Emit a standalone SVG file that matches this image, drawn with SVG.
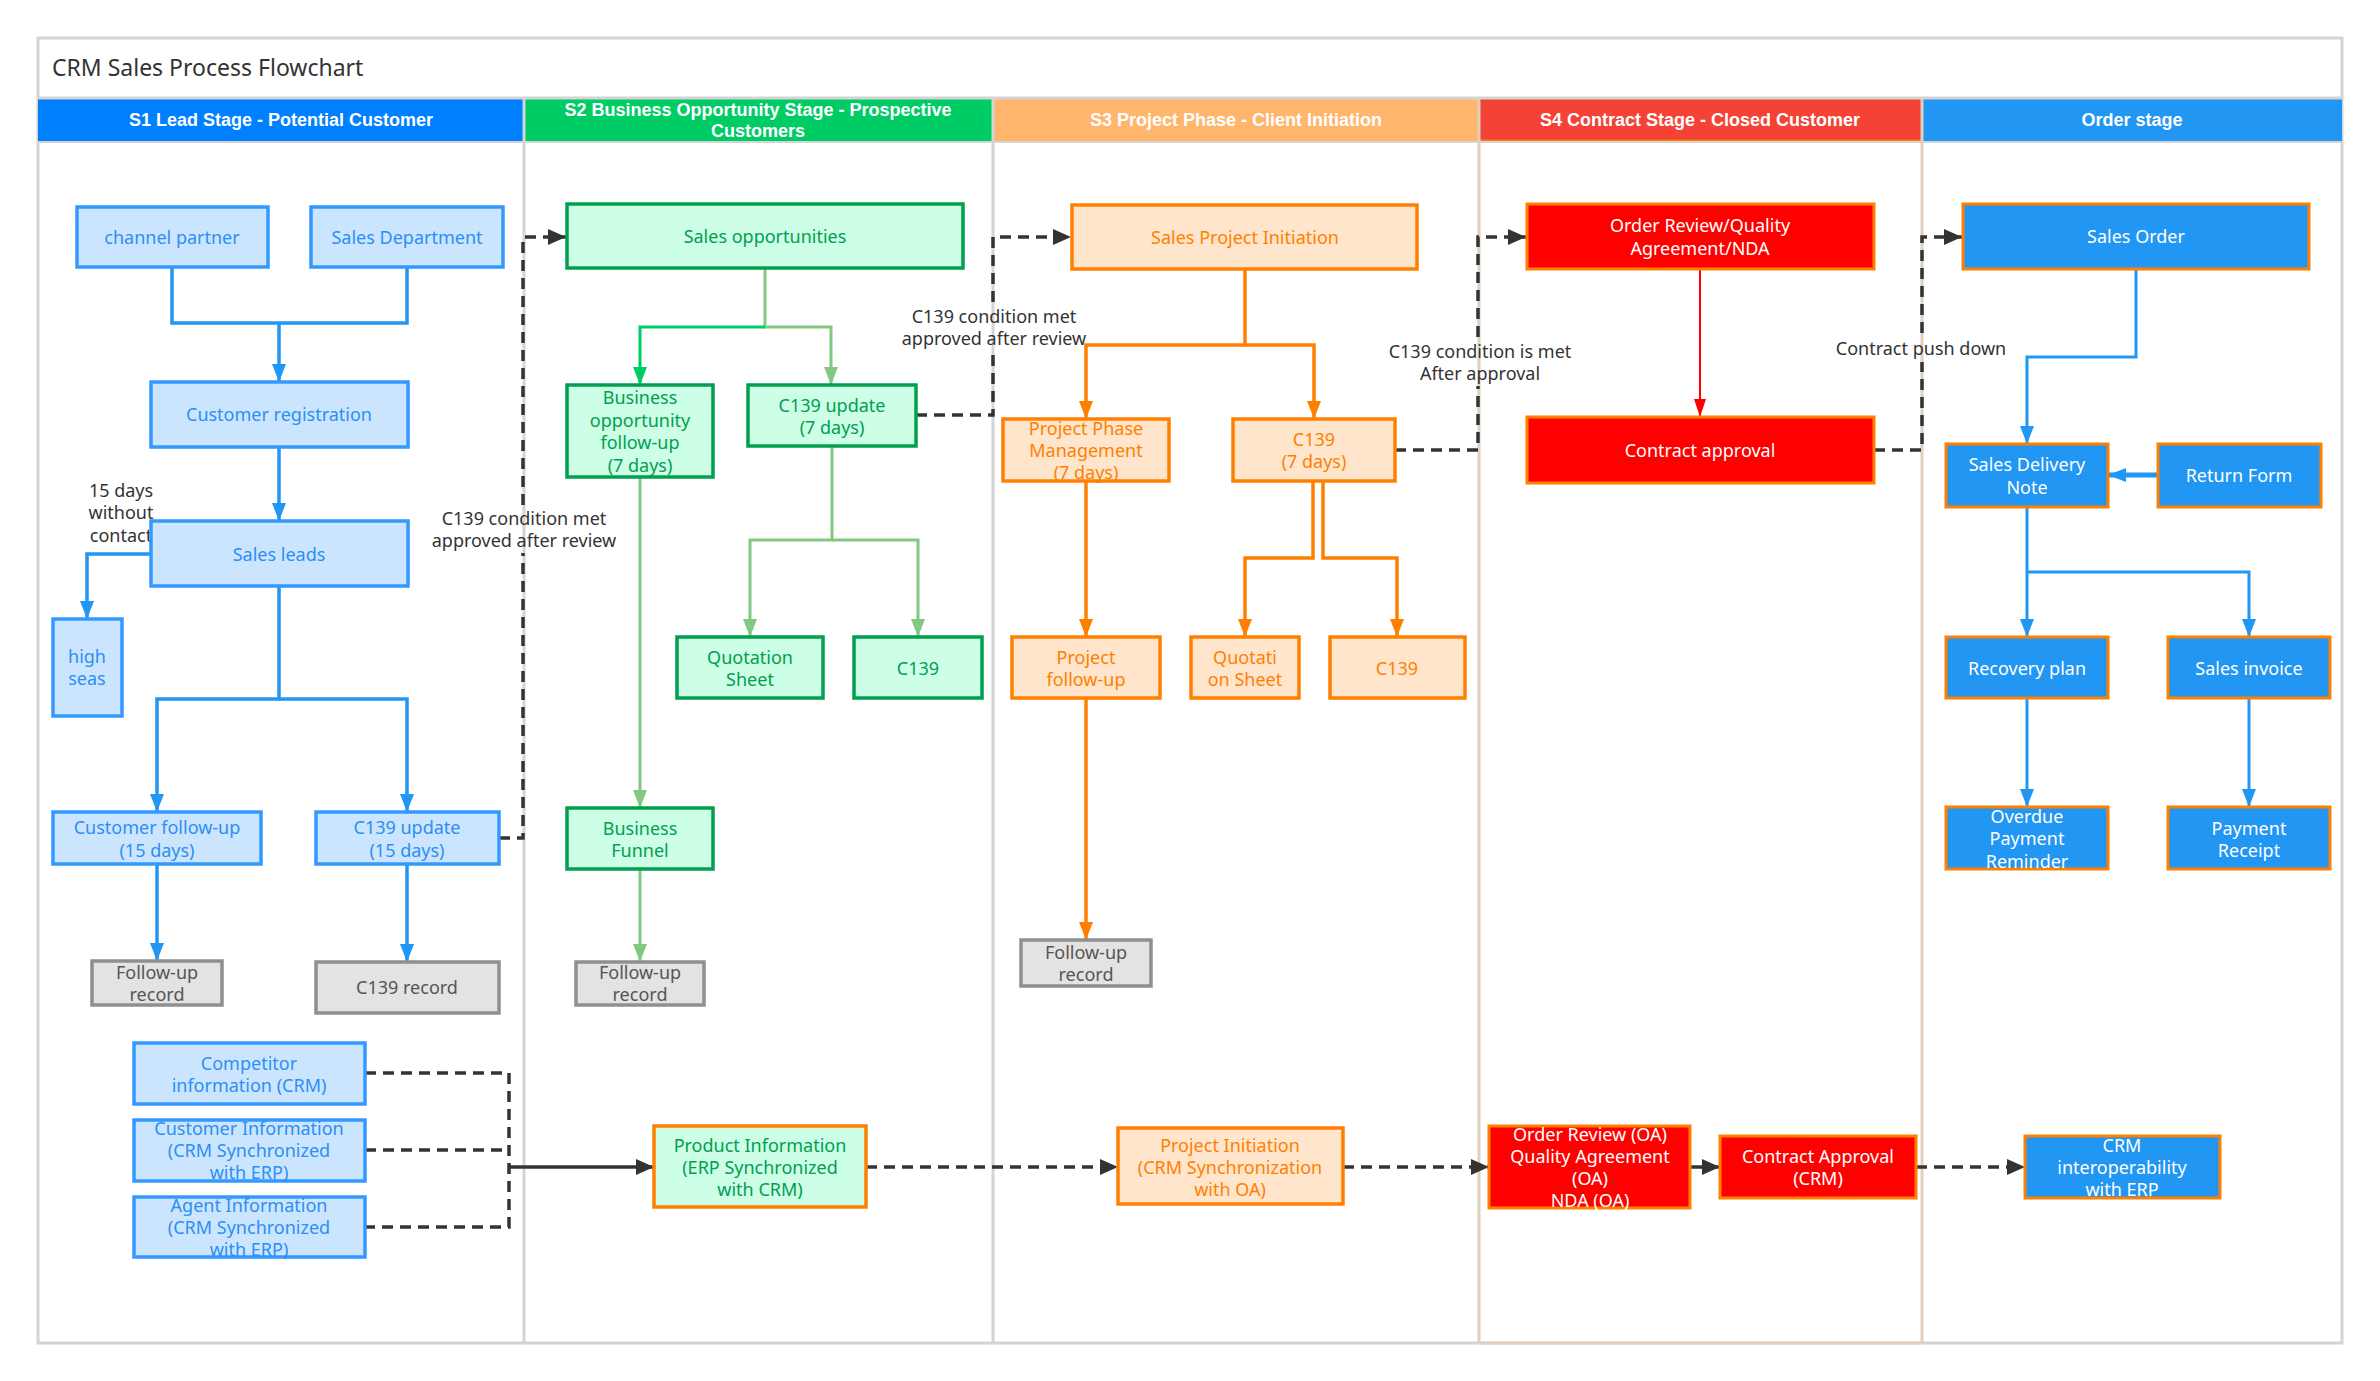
<svg xmlns="http://www.w3.org/2000/svg" width="2380" height="1381" viewBox="0 0 2380 1381">
<style>
text{font-family:"Noto Sans","Open Sans",sans-serif;font-size:18px;text-anchor:middle;dominant-baseline:central}
.hd{font-family:"Liberation Sans",Arial,sans-serif;font-weight:bold;font-size:18px;fill:#fff}
.lane{fill:none;stroke:#d4d4d4;stroke-width:3}
.n1{fill:#cce5ff;stroke:#3399ff;stroke-width:3.5}
.t1{fill:#2b8ff5}
.ng{fill:#e3e3e3;stroke:#8f8f8f;stroke-width:3.5}
.tg{fill:#555}
.n2{fill:#ccffe5;stroke:#00a050;stroke-width:3.5}
.t2{fill:#00a050}
.n3{fill:#ffe5cc;stroke:#ff8000;stroke-width:3.5}
.t3{fill:#ff8000}
.n4{fill:#ff0000;stroke:#ff8000;stroke-width:3}
.n5{fill:#2196f3;stroke:#ff8000;stroke-width:3}
.tw{fill:#fff}
.lb{fill:#333}
.cb{fill:none;stroke:#2196f3;stroke-width:3.5}
.cgb{fill:none;stroke:#00cc66;stroke-width:3}
.cgp{fill:none;stroke:#82c882;stroke-width:3}
.co{fill:none;stroke:#ff8000;stroke-width:3.5}
.cr{fill:none;stroke:#ff0000;stroke-width:2}
.cob{fill:none;stroke:#2196f3;stroke-width:3}
.cd{fill:none;stroke:#333;stroke-width:3.5;stroke-dasharray:11 7}
.cs{fill:none;stroke:#333;stroke-width:3.5}
</style>
<defs>
<marker id="ab" markerUnits="userSpaceOnUse" markerWidth="18" markerHeight="14" refX="18" refY="7" orient="auto"><path d="M0,0 L18,7 L0,14 z" fill="#2196f3"/></marker>
<marker id="agb" markerUnits="userSpaceOnUse" markerWidth="18" markerHeight="14" refX="18" refY="7" orient="auto"><path d="M0,0 L18,7 L0,14 z" fill="#00cc66"/></marker>
<marker id="agp" markerUnits="userSpaceOnUse" markerWidth="18" markerHeight="14" refX="18" refY="7" orient="auto"><path d="M0,0 L18,7 L0,14 z" fill="#82c882"/></marker>
<marker id="ao" markerUnits="userSpaceOnUse" markerWidth="18" markerHeight="14" refX="18" refY="7" orient="auto"><path d="M0,0 L18,7 L0,14 z" fill="#ff8000"/></marker>
<marker id="ar" markerUnits="userSpaceOnUse" markerWidth="18" markerHeight="12" refX="18" refY="6" orient="auto"><path d="M0,0 L18,6 L0,12 z" fill="#ff0000"/></marker>
<marker id="ad" markerUnits="userSpaceOnUse" markerWidth="18" markerHeight="16" refX="18" refY="8" orient="auto"><path d="M0,0 L18,8 L0,16 z" fill="#333"/></marker>
</defs>
<rect x="0" y="0" width="2380" height="1381" fill="#fff"/>
<g id="frame">
<rect x="38" y="38" width="2304" height="1305" fill="#fff" stroke="#d4d4d4" stroke-width="3"/>
<text x="52" y="67" style="text-anchor:start;font-size:23px;fill:#333">CRM Sales Process Flowchart</text>
<rect x="38" y="98" width="486" height="44" fill="#007fff"/>
<rect x="524" y="98" width="469" height="44" fill="#00cc66"/>
<rect x="993" y="98" width="486" height="44" fill="#ffb66c"/>
<rect x="1479" y="98" width="443" height="44" fill="#f44336"/>
<rect x="1922" y="98" width="420" height="44" fill="#2196f3"/>
<line x1="1479" y1="141" x2="1922" y2="141" stroke="#ff8000" stroke-width="3"/>
<line x1="38" y1="98" x2="2342" y2="98" stroke="#d4d4d4" stroke-width="3"/>
<line x1="38" y1="142" x2="2342" y2="142" stroke="#d4d4d4" stroke-width="2"/>
<line class="lane" x1="524" y1="98" x2="524" y2="1343"/>
<line class="lane" x1="993" y1="98" x2="993" y2="1343"/>
<line class="lane" x1="1479" y1="98" x2="1479" y2="1343" style="stroke:#e0d0c0"/>
<line class="lane" x1="1922" y1="98" x2="1922" y2="1343" style="stroke:#e0d0c0"/>
<line x1="1479" y1="1343" x2="1922" y2="1343" stroke="#e0d0c0" stroke-width="3"/>
<text class="hd" x="281" y="120">S1 Lead Stage - Potential Customer</text>
<text class="hd" x="758" y="110">S2 Business Opportunity Stage - Prospective</text>
<text class="hd" x="758" y="131">Customers</text>
<text class="hd" x="1236" y="120">S3 Project Phase - Client Initiation</text>
<text class="hd" x="1700" y="120">S4 Contract Stage - Closed Customer</text>
<text class="hd" x="2132" y="120">Order stage</text>
</g>
<g id="connectors">
<path class="cb" d="M172,267 V323 H407 V267"/>
<path class="cb" d="M279,323 V382" marker-end="url(#ab)"/>
<path class="cb" d="M279,447 V521" marker-end="url(#ab)"/>
<path class="cb" d="M151,554 H87 V619" marker-end="url(#ab)"/>
<path class="cb" d="M279,586 V699 H157 V812" marker-end="url(#ab)"/>
<path class="cb" d="M279,699 H407 V812" marker-end="url(#ab)"/>
<path class="cb" d="M157,864 V961" marker-end="url(#ab)"/>
<path class="cb" d="M407,864 V962" marker-end="url(#ab)"/>
<path class="cgp" d="M765,268 V327 H831 V385" marker-end="url(#agp)"/>
<path class="cgb" d="M765,327 H640 V385" marker-end="url(#agb)"/>
<path class="cgp" d="M832,446 V540 H750 V637" marker-end="url(#agp)"/>
<path class="cgp" d="M832,540 H918 V637" marker-end="url(#agp)"/>
<path class="cgp" d="M640,477 V808" marker-end="url(#agp)"/>
<path class="cgp" d="M640,869 V962" marker-end="url(#agp)"/>
<path class="co" d="M1245,269 V345 H1086 V419" marker-end="url(#ao)"/>
<path class="co" d="M1245,345 H1314 V419" marker-end="url(#ao)"/>
<path class="co" d="M1086,481 V637" marker-end="url(#ao)"/>
<path class="co" d="M1086,698 V940" marker-end="url(#ao)"/>
<path class="co" d="M1313,481 V558 H1245 V637" marker-end="url(#ao)"/>
<path class="co" d="M1323,481 V558 H1397 V637" marker-end="url(#ao)"/>
<path class="cr" d="M1700,269 V417" marker-end="url(#ar)"/>
<path class="cob" d="M2136,269 V357 H2027 V444" marker-end="url(#ab)"/>
<path class="cob" d="M2158,475 H2108" marker-end="url(#ab)" style="stroke-width:5"/>
<path class="cob" d="M2027,507 V637" marker-end="url(#ab)"/>
<path class="cob" d="M2027,572 H2249 V637" marker-end="url(#ab)"/>
<path class="cob" d="M2027,698 V807" marker-end="url(#ab)"/>
<path class="cob" d="M2249,698 V807" marker-end="url(#ab)"/>
<path class="cd" d="M499,838 H523 V553"/>
<path class="cd" d="M523,505 V237 H566" marker-end="url(#ad)"/>
<path class="cd" d="M916,415 H993 V352"/>
<path class="cd" d="M993,302 V237 H1071" marker-end="url(#ad)"/>
<path class="cd" d="M1395,450 H1478 V386"/>
<path class="cd" d="M1478,337 V237 H1526" marker-end="url(#ad)"/>
<path class="cd" d="M1874,450 H1922 V362"/>
<path class="cd" d="M1922,333 V237 H1962" marker-end="url(#ad)"/>
<path class="cd" d="M365,1073 H509 V1227 H365"/>
<path class="cd" d="M365,1150 H509"/>
<path class="cs" d="M509,1167 H654" marker-end="url(#ad)"/>
<path class="cd" d="M866,1167 H1118" marker-end="url(#ad)"/>
<path class="cd" d="M1343,1167 H1489" marker-end="url(#ad)"/>
<path class="cs" d="M1690,1167 H1720" marker-end="url(#ad)"/>
<path class="cd" d="M1916,1167 H2025" marker-end="url(#ad)"/>
<text class="lb" x="121" y="490">15 days</text>
<text class="lb" x="121" y="512">without</text>
<text class="lb" x="121" y="535">contact</text>
<text class="lb" x="524" y="518">C139 condition met</text>
<text class="lb" x="524" y="540">approved after review</text>
<text class="lb" x="994" y="316">C139 condition met</text>
<text class="lb" x="994" y="338">approved after review</text>
<text class="lb" x="1480" y="351">C139 condition is met</text>
<text class="lb" x="1480" y="373">After approval</text>
<text class="lb" x="1921" y="348">Contract push down</text>
</g>
<g id="channel-partner"><rect class="n1" x="77" y="207" width="191" height="60"/><text class="t1" x="172" y="237">channel partner</text></g>
<g id="sales-department"><rect class="n1" x="311" y="207" width="192" height="60"/><text class="t1" x="407" y="237">Sales Department</text></g>
<g id="customer-registration"><rect class="n1" x="151" y="382" width="257" height="65"/><text class="t1" x="279" y="414">Customer registration</text></g>
<g id="sales-leads"><rect class="n1" x="151" y="521" width="257" height="65"/><text class="t1" x="279" y="554">Sales leads</text></g>
<g id="high-seas"><rect class="n1" x="53" y="619" width="69" height="97"/><text class="t1" x="87" y="656">high</text><text class="t1" x="87" y="678">seas</text></g>
<g id="customer-follow-up"><rect class="n1" x="53" y="812" width="208" height="52"/><text class="t1" x="157" y="827">Customer follow-up</text><text class="t1" x="157" y="850">(15 days)</text></g>
<g id="c139-update-15"><rect class="n1" x="316" y="812" width="183" height="52"/><text class="t1" x="407" y="827">C139 update</text><text class="t1" x="407" y="850">(15 days)</text></g>
<g id="follow-up-record-1"><rect class="ng" x="92" y="961" width="130" height="44"/><text class="tg" x="157" y="972">Follow-up</text><text class="tg" x="157" y="994">record</text></g>
<g id="c139-record"><rect class="ng" x="316" y="962" width="183" height="51"/><text class="tg" x="407" y="987">C139 record</text></g>
<g id="competitor-info"><rect class="n1" x="134" y="1043" width="231" height="61"/><text class="t1" x="249" y="1063">Competitor</text><text class="t1" x="249" y="1085">information (CRM)</text></g>
<g id="customer-info"><rect class="n1" x="134" y="1120" width="231" height="61"/><text class="t1" x="249" y="1128">Customer Information</text><text class="t1" x="249" y="1150">(CRM Synchronized</text><text class="t1" x="249" y="1172">with ERP)</text></g>
<g id="agent-info"><rect class="n1" x="134" y="1197" width="231" height="60"/><text class="t1" x="249" y="1205">Agent Information</text><text class="t1" x="249" y="1227">(CRM Synchronized</text><text class="t1" x="249" y="1249">with ERP)</text></g>
<g id="sales-opportunities"><rect class="n2" x="567" y="204" width="396" height="64"/><text class="t2" x="765" y="236">Sales opportunities</text></g>
<g id="business-opportunity-follow-up"><rect class="n2" x="567" y="385" width="146" height="92"/><text class="t2" x="640" y="397">Business</text><text class="t2" x="640" y="420">opportunity</text><text class="t2" x="640" y="442">follow-up</text><text class="t2" x="640" y="465">(7 days)</text></g>
<g id="c139-update-7"><rect class="n2" x="748" y="385" width="168" height="61"/><text class="t2" x="832" y="405">C139 update</text><text class="t2" x="832" y="427">(7 days)</text></g>
<g id="quotation-sheet-2"><rect class="n2" x="677" y="637" width="146" height="61"/><text class="t2" x="750" y="657">Quotation</text><text class="t2" x="750" y="679">Sheet</text></g>
<g id="c139-2"><rect class="n2" x="854" y="637" width="128" height="61"/><text class="t2" x="918" y="668">C139</text></g>
<g id="business-funnel"><rect class="n2" x="567" y="808" width="146" height="61"/><text class="t2" x="640" y="828">Business</text><text class="t2" x="640" y="850">Funnel</text></g>
<g id="follow-up-record-2"><rect class="ng" x="576" y="962" width="128" height="43"/><text class="tg" x="640" y="972">Follow-up</text><text class="tg" x="640" y="994">record</text></g>
<g id="product-information"><rect class="n2" x="654" y="1126" width="212" height="81" style="stroke:#ff8000"/><text class="t2" x="760" y="1145">Product Information</text><text class="t2" x="760" y="1167">(ERP Synchronized</text><text class="t2" x="760" y="1189">with CRM)</text></g>
<g id="sales-project-initiation"><rect class="n3" x="1072" y="205" width="345" height="64"/><text class="t3" x="1245" y="237">Sales Project Initiation</text></g>
<g id="project-phase-management"><rect class="n3" x="1003" y="419" width="166" height="62"/><text class="t3" x="1086" y="428">Project Phase</text><text class="t3" x="1086" y="450">Management</text><text class="t3" x="1086" y="472">(7 days)</text></g>
<g id="c139-7"><rect class="n3" x="1233" y="419" width="162" height="62"/><text class="t3" x="1314" y="439">C139</text><text class="t3" x="1314" y="461">(7 days)</text></g>
<g id="project-follow-up"><rect class="n3" x="1012" y="637" width="148" height="61"/><text class="t3" x="1086" y="657">Project</text><text class="t3" x="1086" y="679">follow-up</text></g>
<g id="quotation-sheet-3"><rect class="n3" x="1191" y="637" width="108" height="61"/><text class="t3" x="1245" y="657">Quotati</text><text class="t3" x="1245" y="679">on Sheet</text></g>
<g id="c139-3"><rect class="n3" x="1330" y="637" width="135" height="61"/><text class="t3" x="1397" y="668">C139</text></g>
<g id="follow-up-record-3"><rect class="ng" x="1021" y="940" width="130" height="46"/><text class="tg" x="1086" y="952">Follow-up</text><text class="tg" x="1086" y="974">record</text></g>
<g id="project-initiation"><rect class="n3" x="1118" y="1128" width="225" height="76"/><text class="t3" x="1230" y="1145">Project Initiation</text><text class="t3" x="1230" y="1167">(CRM Synchronization</text><text class="t3" x="1230" y="1189">with OA)</text></g>
<g id="order-review"><rect class="n4" x="1527" y="204" width="347" height="65"/><text class="tw" x="1700" y="225">Order Review/Quality</text><text class="tw" x="1700" y="248">Agreement/NDA</text></g>
<g id="contract-approval"><rect class="n4" x="1527" y="417" width="347" height="66"/><text class="tw" x="1700" y="450">Contract approval</text></g>
<g id="order-review-oa"><rect class="n4" x="1489" y="1126" width="201" height="82"/><text class="tw" x="1590" y="1134">Order Review (OA)</text><text class="tw" x="1590" y="1156">Quality Agreement</text><text class="tw" x="1590" y="1178">(OA)</text><text class="tw" x="1590" y="1200">NDA (OA)</text></g>
<g id="contract-approval-crm"><rect class="n4" x="1720" y="1136" width="196" height="62"/><text class="tw" x="1818" y="1156">Contract Approval</text><text class="tw" x="1818" y="1178">(CRM)</text></g>
<g id="sales-order"><rect class="n5" x="1963" y="204" width="346" height="65"/><text class="tw" x="2136" y="236">Sales Order</text></g>
<g id="sales-delivery-note"><rect class="n5" x="1946" y="444" width="162" height="63"/><text class="tw" x="2027" y="464">Sales Delivery</text><text class="tw" x="2027" y="487">Note</text></g>
<g id="return-form"><rect class="n5" x="2158" y="444" width="163" height="63"/><text class="tw" x="2239" y="475">Return Form</text></g>
<g id="recovery-plan"><rect class="n5" x="1946" y="637" width="162" height="61"/><text class="tw" x="2027" y="668">Recovery plan</text></g>
<g id="sales-invoice"><rect class="n5" x="2168" y="637" width="162" height="61"/><text class="tw" x="2249" y="668">Sales invoice</text></g>
<g id="overdue-payment-reminder"><rect class="n5" x="1946" y="807" width="162" height="62"/><text class="tw" x="2027" y="816">Overdue</text><text class="tw" x="2027" y="838">Payment</text><text class="tw" x="2027" y="861">Reminder</text></g>
<g id="payment-receipt"><rect class="n5" x="2168" y="807" width="162" height="62"/><text class="tw" x="2249" y="828">Payment</text><text class="tw" x="2249" y="850">Receipt</text></g>
<g id="crm-interoperability"><rect class="n5" x="2025" y="1136" width="195" height="62"/><text class="tw" x="2122" y="1145">CRM</text><text class="tw" x="2122" y="1167">interoperability</text><text class="tw" x="2122" y="1189">with ERP</text></g>
</svg>
